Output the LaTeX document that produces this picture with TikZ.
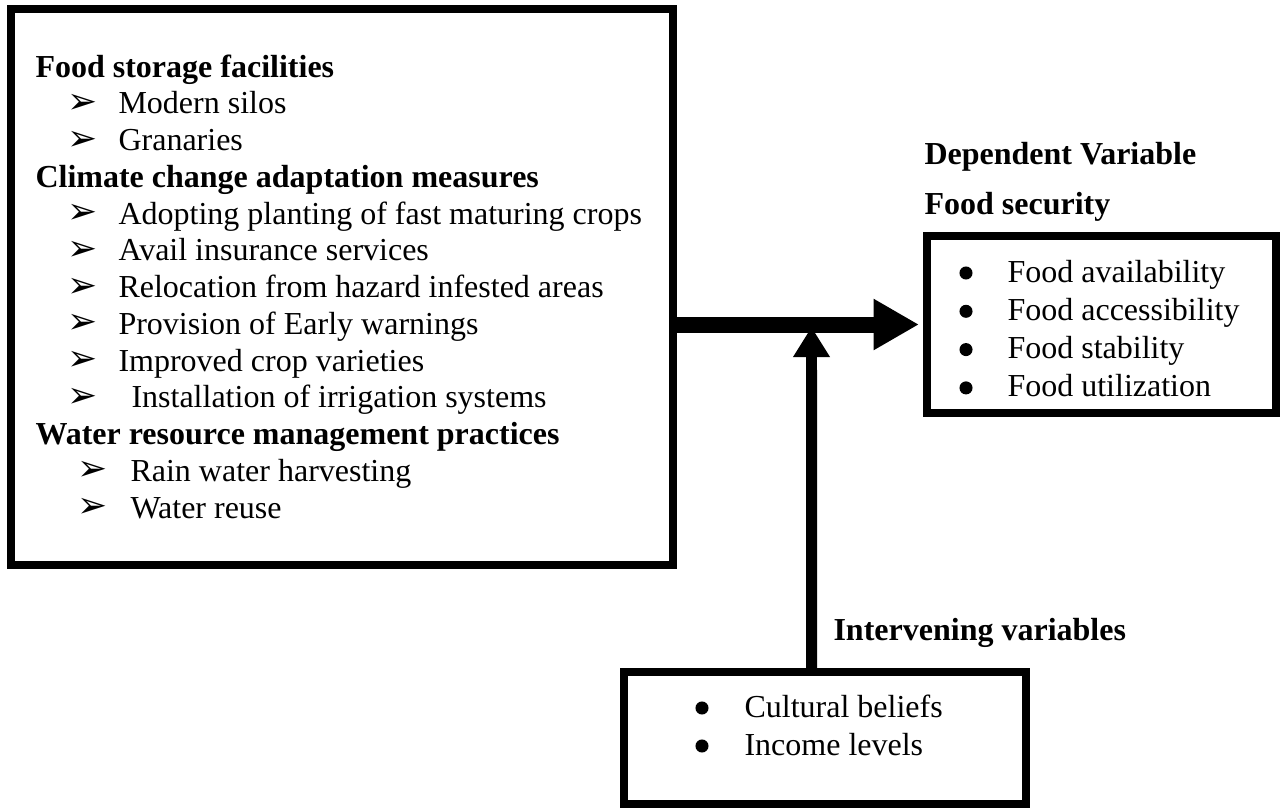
\documentclass[tikz,border=0pt]{standalone}
\usepackage{fontspec}
\setmainfont{Liberation Serif}
\newfontfamily\symfont{DejaVu Sans}
\usetikzlibrary{arrows.meta}

\begin{document}
\begin{tikzpicture}[x=0.375pt, y=-0.375pt,
    every node/.style={font=\fontsize{12}{14}\selectfont},
    box/.style={draw, line width=3pt, rectangle, inner sep=0pt},
    lbl/.style={anchor=base west, inner sep=0pt},
    head/.style={lbl, font=\fontsize{12}{14}\selectfont\bfseries},
    arrowmark/.style={anchor=center, inner sep=0pt, font=\fontsize{13.5}{14}\selectfont\symfont},
    dotmark/.style={circle, fill, inner sep=0pt, minimum size=4.9pt},
    flow/.style={line width=6pt, -{Triangle[length=17pt, width=18pt]}},
    side/.style={line width=4.1pt, -{Triangle[length=11.3pt, width=13.1pt]}}]
    \useasboundingbox (0,0) rectangle (1284,811);

    % boxes
    \node[box, minimum width=248.4pt, minimum height=208.5pt] (indep) at (342.25,286.5) {};
    \node[box, minimum width=130.9pt, minimum height=66.4pt] (depbox) at (1101.5,324.5) {};
    \node[box, minimum width=150.75pt, minimum height=49.5pt] (intbox) at (825,738) {};

    % independent variables
    \node[head] (h0) at (35,77) {Food storage facilities};
    \node[head] (h3) at (35,{77+3*36.75}) {Climate change adaptation measures};
    \node[head] (h10) at (35,{77+10*36.75}) {Water resource management practices};
    \foreach \k/\bx/\tx/\txt in {1/82.5/118/Modern silos, 2/82.5/118/Granaries,
        4/82.5/118/Adopting planting of fast maturing crops, 5/82.5/118/Avail insurance services,
        6/82.5/118/Relocation from hazard infested areas, 7/82.5/118/Provision of Early warnings,
        8/82.5/118/Improved crop varieties, 9/82.5/131/Installation of irrigation systems,
        11/92.5/130/Rain water harvesting, 12/92.5/130/Water reuse}{
        \node[arrowmark] (m\k) at (\bx,{77+\k*36.75-10}) {➢};
        \node[lbl] (t\k) at (\tx,{77+\k*36.75}) {\txt};
    }

    % dependent variable
    \node[head] (deptitle) at (924,164) {Dependent Variable};
    \node[head] (depname) at (924,214) {Food security};
    \foreach \k/\txt in {0/Food availability, 1/Food accessibility, 2/Food stability, 3/Food utilization}{
        \node[dotmark] (d\k) at (966,{282+\k*38.3-9}) {};
        \node[lbl] (f\k) at (1007,{282+\k*38.3}) {\txt};
    }

    % intervening variables
    \node[head] (inttitle) at (833,640) {Intervening variables};
    \foreach \k/\txt in {0/Cultural beliefs, 1/Income levels}{
        \node[dotmark] (c\k) at (702,{717+\k*38-9}) {};
        \node[lbl] (i\k) at (744,{717+\k*38}) {\txt};
    }

    % connectors
    \coordinate (meet) at (811.5,327);
    \draw[flow] (indep.east |- depbox.west) -- ([xshift=-1.5pt]depbox.west);
    \draw[side] ([xshift=-5pt]intbox.north) -- (meet);
\end{tikzpicture}
\end{document}
